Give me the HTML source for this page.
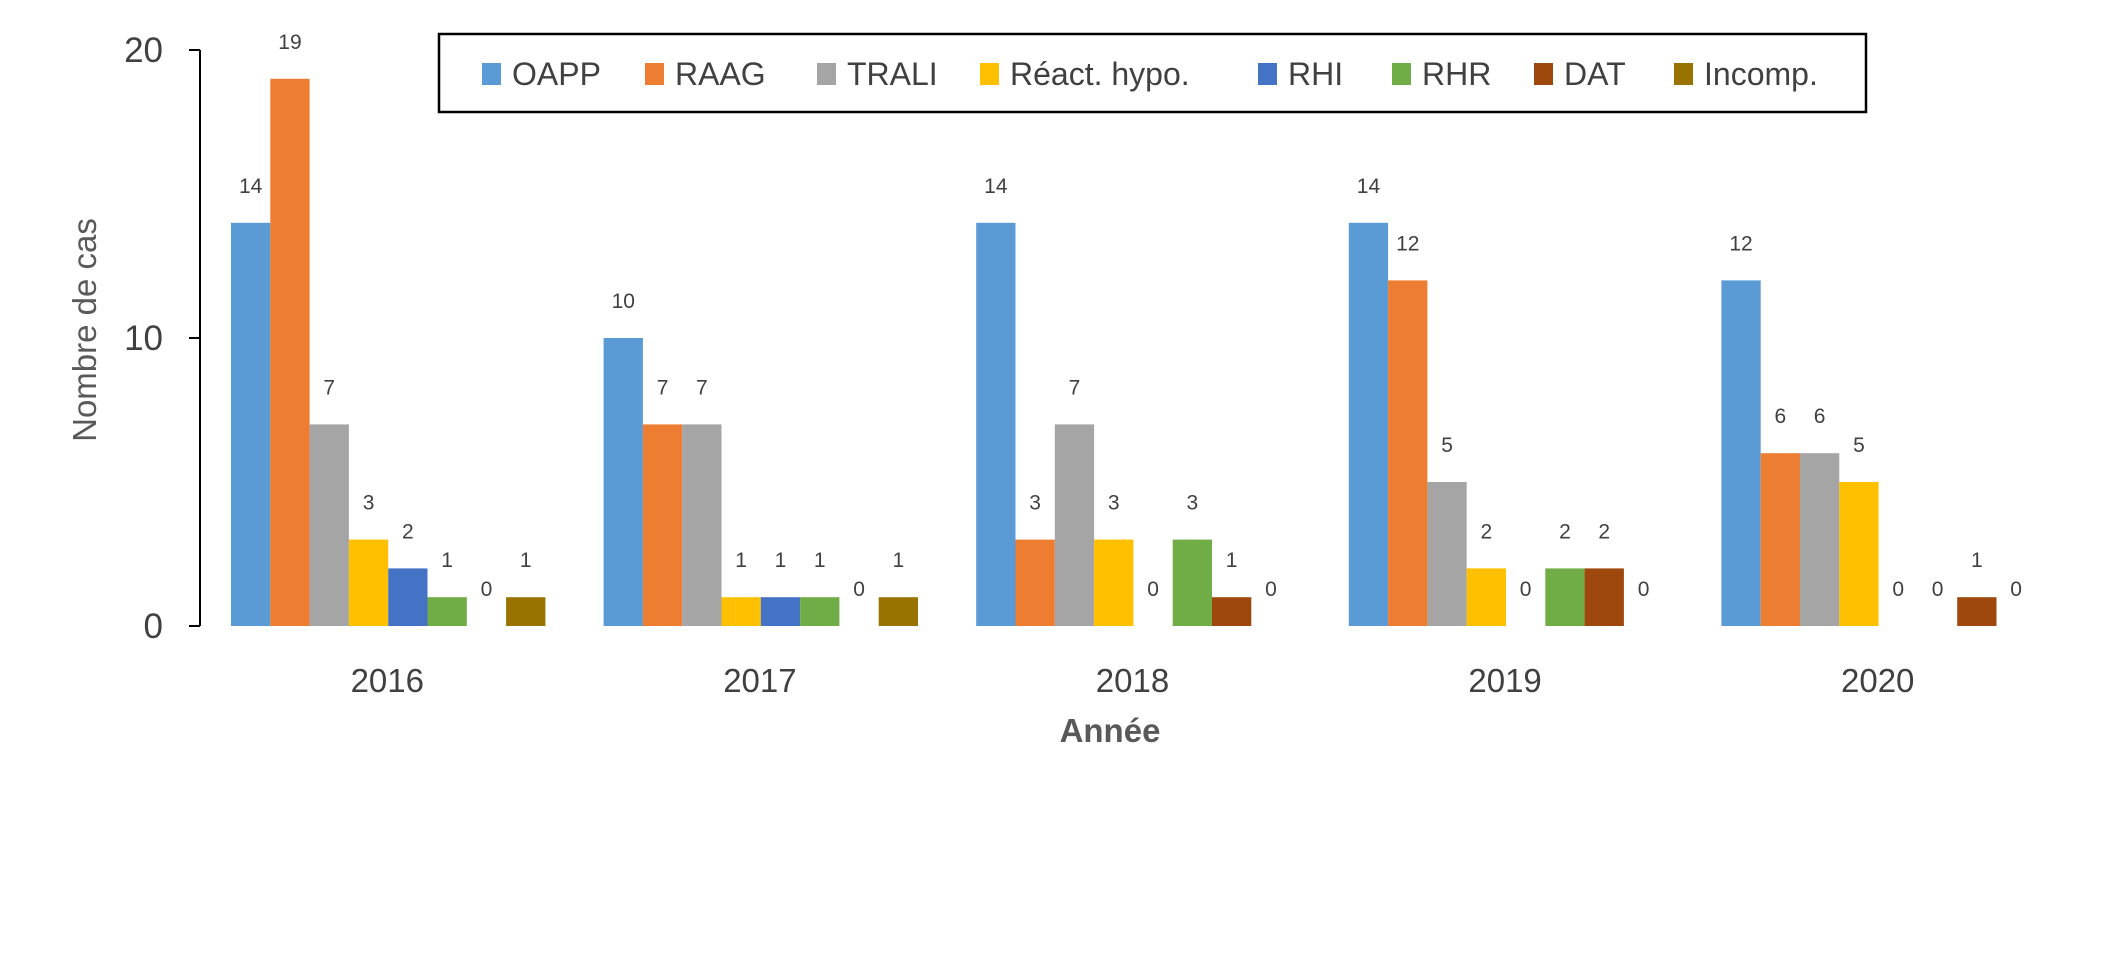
<!DOCTYPE html>
<html><head><meta charset="utf-8"><style>
html,body{margin:0;padding:0;background:#fff;}
svg{display:block;font-family:"Liberation Sans",sans-serif;}
</style></head><body>
<svg id="chart" width="2117" height="974">
<g id="g"></g>
</svg>
<script>
const categories=["2016","2017","2018","2019","2020"];
const seriesNames=["OAPP","RAAG","TRALI","Réact. hypo.","RHI","RHR","DAT","Incomp."];
const oapp=[14,10,14,14,12];
const raag=[19,7,3,12,6];
const trali=[7,7,7,5,6];
const reacthypo=[3,1,3,2,5];
const rhi=[2,1,0,0,0];
const rhr=[1,1,3,2,0];
const dat=[0,0,1,2,1];
const incomp=[1,1,0,0,0];
const yTicks=[0,10,20];
const colors=["#5B9BD5","#ED7D31","#A5A5A5","#FFC000","#4472C4","#70AD47","#9E480E","#997300"];
const series=[oapp,raag,trali,reacthypo,rhi,rhr,dat,incomp];
const NS="http://www.w3.org/2000/svg";
const g=document.getElementById('g');
const x0=201,band=372.6,barW=39.3,groupOff=30,y0=626,yTop=50,yMax=20;
const y=v=>y0-(v/yMax)*(y0-yTop);
const xb=(ci,si)=>x0+ci*band+groupOff+si*barW;
function el(t,a,txt){const e=document.createElementNS(NS,t);for(const k in a)e.setAttribute(k,a[k]);if(txt!==undefined)e.textContent=txt;g.appendChild(e);return e;}
// bars
series.forEach((s,si)=>{s.forEach((v,ci)=>{
 const r=el('rect',{x:xb(ci,si),y:y(v),width:barW,height:y0-y(v),fill:colors[si]});
 
 
 const t=el('text',{x:xb(ci,si)+barW/2,y:y(v)-30,'text-anchor':'middle','font-size':21,fill:'#404040'},String(v));
 
 
});});
// axis
const ax=el('line',{x1:200,y1:yTop,x2:200,y2:y0,stroke:'#000','stroke-width':2});


yTicks.forEach(v=>{
 const tk=el('line',{x1:189,y1:y(v),x2:200,y2:y(v),stroke:'#000','stroke-width':2});
 
 
 const t=el('text',{x:163,y:y(v)+12,'text-anchor':'end','font-size':35,fill:'#404040'},String(v));
 
 
});
categories.forEach((c,ci)=>{
 const t=el('text',{x:x0+ci*band+band/2,y:692,'text-anchor':'middle','font-size':33,fill:'#404040'},c);
 
 
});
const xt=el('text',{x:1110,y:742,'text-anchor':'middle','font-size':33,'font-weight':'bold',fill:'#595959'},'Année');


const yt=el('text',{x:0,y:0,'text-anchor':'middle','font-size':33,fill:'#595959',transform:'translate(96,330) rotate(-90)'},'Nombre  de cas');


// legend
const lb=el('rect',{x:439,y:34,width:1427,height:78,fill:'#fff',stroke:'#000','stroke-width':2.5});


const lx=[482,645,817,980,1258,1392,1534,1674];
seriesNames.forEach((n,i)=>{
 const s=el('rect',{x:lx[i],y:63,width:19,height:22,fill:colors[i]});
 
 
 const t=el('text',{x:lx[i]+30,y:85,'font-size':32,fill:'#404040'},n);
 
 
});
</script>
</body></html>
